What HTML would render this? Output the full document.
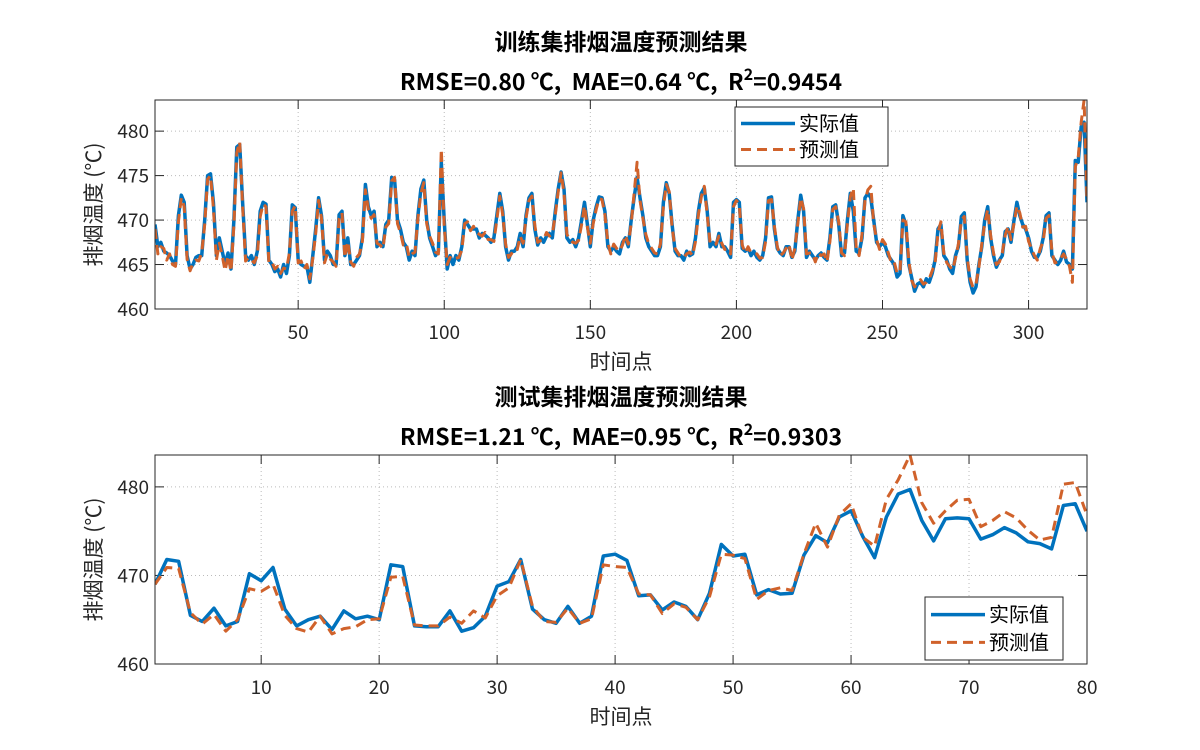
<!DOCTYPE html>
<html><head><meta charset="utf-8"><style>
body{margin:0;background:#fff;}
svg{display:block;font-family:"Noto Sans CJK SC","Liberation Sans",sans-serif;}
.pre{white-space:pre;}
</style></head><body>
<svg id="fig" width="1200" height="750"></svg>
<script>
const topActual=[469.5,467,467.5,466.5,466.3,466,465.4,465,470.5,472.8,472,466,464.5,465,465.8,466,466,470,475,475.2,
472,466,468,466.5,465,466.3,464.5,470,478.2,478.5,472,466,465.5,466,465,466.5,471,472,471.8,465.5,
465,464.2,464.5,463.6,465,464,466,471.7,471.4,465.5,465,464.8,464.8,463,466,469,472.5,470.5,465.5,466.5,
466,465,465,470.6,471,466,468,465,465,465.5,466,468,474,471.5,470.5,471,467,467.5,467,469.5,
470,474.8,474.5,470,469,467.5,467,465.5,466.5,466,470.5,473.5,474.5,470,468,467,466,466.5,476.5,470,
464.5,466,465,466,465.5,467,470,469.5,469,469,469,468,468.5,468.3,468,467.5,468,470.5,473,471,
467,465.5,466.5,466.5,467,468.5,467,470.5,472.5,473,469,467.2,468,467.5,468.2,468.5,468,471,473.5,475.4,
473.5,468,467.5,467.8,467,468,470,472,469.5,467,470,471.5,472.6,472.5,471,467,466.5,467,466.5,466.2,
467.5,468,467,470,472.5,474.8,472.5,470.5,468,467,466.5,466,466,467,472,474.2,473,469.5,466.5,466,
466,465.5,466.5,466,466.2,468,471,473,473.6,471,467,467.5,467,468.5,467,467,466.5,465.8,472,472.3,
472,466.8,466.5,466.8,466,466.5,465.8,465.5,466,468,472.5,472.6,469,466.8,466.3,466,467,467,465.8,466.5,
470,472.8,471,465.8,466.5,466,465.5,466,466.3,465.8,465.5,468,471.5,471.7,469.5,466,466.3,470,473,471,
466.5,466.3,468,472.5,473,472.5,470,467.5,467,467.5,467,466,465.5,465,463.6,464,470.5,469.5,465,463.5,
462,462.8,463,462.5,463.4,463,464,465.5,469,469.5,466,465.5,464.5,464,466,467,470.4,470.8,465.5,463,
461.8,462.5,465,467,470,471.5,468,466,464.7,465.5,466,468.7,469,467.5,470,472,470.5,469.5,469,468,
466.5,465.8,465.8,466.5,468,470.5,470.8,466,465.5,465,465.5,466.5,465.3,465,464.5,476.7,476.5,480.5,481,472];
const topPred=[469,466.2,467,466.8,465.5,466.2,465,464.8,469.8,472.5,471.5,465.6,464.3,465.2,465.5,465.4,466.3,469.5,474.6,475,
471.4,465.5,467.4,466,464.3,466,464.2,469.4,477.6,478.8,471.6,465.4,465.8,465.5,465.2,466,470.4,471.8,471.5,465.2,
465.3,464.5,464.8,464,464.6,464.5,466.3,471,471.6,465.2,465.4,464.5,465,463.4,465.7,468.5,472.2,470.2,465.2,466.2,
465.6,465.3,464.8,470.2,470.8,465.8,467.6,465.3,464.8,465.8,466.2,467.6,473.4,471.2,470.2,470.6,467.4,467.2,466.8,469.2,
469.6,474.4,474.8,469.6,468.6,467.2,467.4,465.8,466.2,466.4,470.2,473,474.2,469.6,468.2,467.4,466.4,466.2,478,469.4,
465,465.8,465.5,465.7,465.8,466.6,469.6,469.8,468.8,469.3,468.6,468.4,468.2,468.6,467.8,467.8,467.6,470,472.7,470.6,
467.3,465.8,466.2,466.8,466.7,468.2,467.4,470.2,472.2,472.7,469.4,467.5,467.7,467.8,468.6,468.2,468.4,470.6,473.2,475.3,
473,468.4,467.8,467.5,467.4,467.7,469.5,471.6,469.2,467.4,469.6,471.2,472.4,472.3,470.6,467.4,466.2,467.3,466.8,466.5,
467.2,468.3,467.3,469.6,473,476.5,472.2,470.2,468.4,467.3,466.8,466.3,466.2,467.3,471.5,474,473.2,469.2,466.8,466.3,
465.8,465.8,466.2,466.4,466,467.6,470.6,472.6,473.8,470.6,467.4,467.2,467.3,468.2,467.4,466.7,466.8,466.2,471.5,472.2,
471.7,467.2,466.3,467,466.3,466.2,466.2,465.7,465.8,467.6,472.2,472.3,469.3,467,466,466.3,466.8,467.3,465.5,466.8,
469.6,472.5,471.3,466.2,466.3,466.3,465.3,466.3,466,466.2,465.3,467.6,471.2,471.5,469.8,466.3,466,469.6,472.6,473.6,
466.8,466,468.4,472.2,473.4,473.8,469.6,467.8,466.7,467.8,467.3,466.3,465.2,465.3,464,464.2,470,469.8,465.4,463.2,
462.5,463,463.3,462.8,463,463.4,464.3,465.2,468.6,469.8,466.3,465.2,464.8,464.4,465.7,467.3,470,470.4,465.8,463.4,
462.4,462.8,464.7,467.3,469.6,471.2,468.3,466.3,465,465.3,466.3,468.3,469.3,467.8,469.6,471.6,470.8,469.2,469.3,467.6,
466.8,466,465.5,466.8,467.6,470.2,470.5,466.4,465.2,465.3,465.7,466.2,465.6,464.8,463,476,477,481,483.5,472];
const botActual=[469,471.8,471.6,465.5,464.8,466.3,464.3,464.8,470.2,469.4,470.9,466.2,464.3,465,465.4,463.9,466,465.1,465.4,465,
471.2,471,464.3,464.2,464.2,466,463.7,464.1,465.4,468.8,469.3,471.8,466.2,465,464.6,466.5,464.6,465.4,472.2,472.4,
471.7,467.7,467.8,466.1,467,466.5,465,468,473.5,472.2,472.4,467.8,468.4,467.9,468,472.3,474.5,473.7,476.6,477.3,
474.4,472,476.6,479.2,479.7,476.2,473.9,476.4,476.5,476.4,474.1,474.6,475.4,474.8,473.8,473.6,473,477.9,478.1,475];
const botPred=[469,470.9,470.8,465.8,464.5,465.6,463.7,465,468.5,468.2,469,465.5,464,463.6,465.4,463.4,464,464.2,465,465.1,
469.8,469.9,464.4,464.3,464.3,465.3,464.6,466,465.2,467.7,468.6,471.8,466.5,464.8,464.7,466.3,464.6,465.1,471.2,471,
470.9,467.9,467.8,465.7,466.8,466.4,465,467.6,472.4,472.3,471.9,467.3,468.3,468.6,468.3,472.4,475.9,473.2,476.8,478.1,
474.3,473.3,478.6,480.8,483.6,478.2,475.9,477.3,478.5,478.6,475.5,476.2,477.2,476.5,475.1,474,474.3,480.3,480.5,476.8];
const topXTicks=[50,100,150,200,250,300];
const botXTicks=[10,20,30,40,50,60,70,80];
const yTicks=[460,465,470,475,480];
const botYTicks=[460,470,480];

const NS="http://www.w3.org/2000/svg";
const svg=document.getElementById('fig');
function mk(tag,attrs,parent,txt){const e=document.createElementNS(NS,tag);for(const k in attrs)e.setAttribute(k,attrs[k]);if(txt!==undefined)e.textContent=txt;(parent||svg).appendChild(e);return e;}

function panel(o){
  const g=mk('g',{});
  
  
  const L=155,R=1087,T=o.top,B=o.bottom;
  const sx=v=>L+(v-o.x0)/(o.x1-o.x0)*(R-L);
  const sy=v=>B-(v-o.y0)/(o.y1-o.y0)*(B-T);
  mk('rect',{x:L,y:T,width:R-L,height:B-T,fill:'#fff'},g);
  o.xt.forEach(t=>{
    const ln=mk('line',{x1:sx(t),x2:sx(t),y1:T,y2:B,stroke:'#bbb','stroke-dasharray':'1,3'},g);
    
    
    mk('line',{x1:sx(t),x2:sx(t),y1:B,y2:B-9,stroke:'#262626'},g);
    mk('line',{x1:sx(t),x2:sx(t),y1:T,y2:T+9,stroke:'#262626'},g);
    const tx=mk('text',{x:sx(t),y:B+30,'font-size':19,'text-anchor':'middle',fill:'#262626'},g,t);
    
    
  });
  o.yt.forEach(t=>{
    const ln=mk('line',{x1:L,x2:R,y1:sy(t),y2:sy(t),stroke:'#bbb','stroke-dasharray':'1,3'},g);
    
    
    mk('line',{x1:L,x2:L+9,y1:sy(t),y2:sy(t),stroke:'#262626'},g);
    mk('line',{x1:R,x2:R-9,y1:sy(t),y2:sy(t),stroke:'#262626'},g);
    const tx=mk('text',{x:L-6,y:sy(t)+7,'font-size':19,'text-anchor':'end',fill:'#262626'},g,t);
    
    
  });
  const clip=mk('clipPath',{id:o.name+'-clip'},g);
  mk('rect',{x:L,y:T,width:R-L,height:B-T},clip);
  const pts=a=>a.map((v,i)=>sx(i+1).toFixed(1)+','+sy(v).toFixed(1)).join(' ');
  const la=mk('polyline',{points:pts(o.act),fill:'none',stroke:'#0072BD','stroke-width':3.5,'stroke-linejoin':'round','clip-path':`url(#${o.name}-clip)`},g);
  
  
  const lp=mk('polyline',{points:pts(o.pred),fill:'none',stroke:'#D0622B','stroke-width':3,'stroke-dasharray':'10,6','stroke-linejoin':'round','clip-path':`url(#${o.name}-clip)`},g);
  
  
  mk('rect',{x:L,y:T,width:R-L,height:B-T,fill:'none',stroke:'#262626','stroke-width':1},g);
  const t1=mk('text',{x:621,y:o.titleY,'font-size':23,'font-weight':'bold','text-anchor':'middle',fill:'#000'},g,o.title);
  
  
  const t2=mk('text',{x:621,y:o.titleY+40,'font-size':23,'font-weight':'bold','text-anchor':'middle',fill:'#000','class':'pre'},g);
  
  
  mk('tspan',{},t2,o.metrics);
  mk('tspan',{'font-size':16,dy:-10},t2,'2');
  mk('tspan',{dy:10},t2,'='+o.r2);
  const xl=mk('text',{x:621,y:B+60,'font-size':21,'text-anchor':'middle',fill:'#262626'},g,'时间点');
  
  
  const cy=(T+B)/2;
  const yl=mk('text',{x:101,y:cy,'font-size':21,'text-anchor':'middle',fill:'#262626',transform:`rotate(-90 101 ${cy})`},g,'排烟温度 (℃)');
  
  
  const lg=mk('g',{},g);
  
  
  const [lx,ly,lw,lh]=o.leg;
  mk('rect',{x:lx,y:ly,width:lw,height:lh,fill:'#fff',stroke:'#262626'},lg);
  mk('line',{x1:lx+6,x2:lx+60,y1:ly+lh*0.28,y2:ly+lh*0.28,stroke:'#0072BD','stroke-width':3.5},lg);
  mk('line',{x1:lx+6,x2:lx+60,y1:ly+lh*0.72,y2:ly+lh*0.72,stroke:'#D0622B','stroke-width':3,'stroke-dasharray':'10,6'},lg);
  const e1=mk('text',{x:lx+64,y:ly+lh*0.28+7,'font-size':20,fill:'#000'},lg,'实际值');
  
  
  const e2=mk('text',{x:lx+64,y:ly+lh*0.72+7,'font-size':20,fill:'#000'},lg,'预测值');
  
  
}
panel({name:'train-panel',top:100,bottom:309,x0:1,x1:320,y0:460,y1:483.5,xt:topXTicks,yt:yTicks,act:topActual,pred:topPred,
  titleY:50,title:'训练集排烟温度预测结果',metrics:'RMSE=0.80 ℃,  MAE=0.64 ℃,  R',r2:'0.9454',leg:[735,107,153,59]});
panel({name:'test-panel',top:455,bottom:664,x0:1,x1:80,y0:460,y1:483.6,xt:botXTicks,yt:botYTicks,act:botActual,pred:botPred,
  titleY:405,title:'测试集排烟温度预测结果',metrics:'RMSE=1.21 ℃,  MAE=0.95 ℃,  R',r2:'0.9303',leg:[925,597,138,63]});
</script>
</body></html>
